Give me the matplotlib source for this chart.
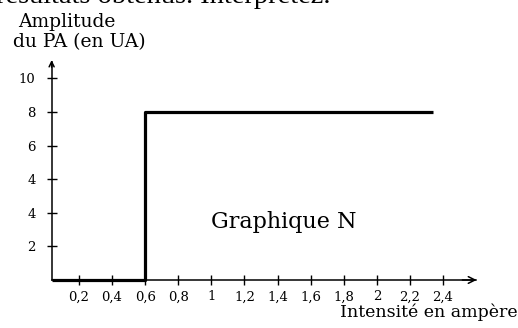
import matplotlib
matplotlib.use("Agg")
import matplotlib.pyplot as plt
import numpy as np

# Seuil d'excitation : amplitude du PA en fonction de l'intensité
intensite = [0.04, 0.6, 0.6, 2.34]
amplitude = [0, 0, 8, 8]

x_ticks = [0.2, 0.4, 0.6, 0.8, 1.0, 1.2, 1.4, 1.6, 1.8, 2.0, 2.2, 2.4]
x_tick_labels = ["0,2", "0,4", "0,6", "0,8", "1", "1,2", "1,4", "1,6",
                 "1,8", "2", "2,2", "2,4"]
y_tick_labels = ["2", "4", "4", "6", "8", "10"]

SERIF = "DejaVu Serif"

fig = plt.figure(figsize=(5.18, 3.28), dpi=100)
ax = fig.add_axes([0, 0, 1, 1])
ax.set_xlim(-0.277, 2.853)
ax.set_ylim(-2.286, 13.33)

x0 = 0.035
ax.plot(intensite, amplitude, color="black", lw=2.3, solid_capstyle="butt")

# axes en croix, avec flèches
for side in ("top", "right"):
    ax.spines[side].set_visible(False)
ax.spines["left"].set_position(("data", x0))
ax.spines["bottom"].set_position(("data", 0))
ax.spines["left"].set_bounds(0, 10.4)
ax.spines["bottom"].set_bounds(x0, 2.6)
ax.spines["left"].set_linewidth(1.1)
ax.spines["bottom"].set_linewidth(1.1)
ax.annotate("", xy=(2.62, 0), xytext=(2.5, 0),
            arrowprops=dict(arrowstyle="->", lw=1.1, color="black",
                            mutation_scale=12))
ax.annotate("", xy=(x0, 10.6), xytext=(x0, 10.0),
            arrowprops=dict(arrowstyle="->", lw=1.1, color="black",
                            mutation_scale=9))

ax.set_xticks(x_ticks)
ax.set_xticklabels(x_tick_labels, fontfamily=SERIF, fontsize=9.5)
ax.set_yticks(np.arange(1, 7) * 1.6)
ax.set_yticklabels(y_tick_labels, fontfamily=SERIF, fontsize=9.5)
ax.tick_params(axis="x", direction="inout", length=7, width=1, pad=4)
ax.tick_params(axis="y", direction="inout", length=7, width=1, pad=8)

ax.text(1.44, 2.76, "Graphique N", fontfamily=SERIF,
        fontsize=16, ha="center", va="center")
ax.text(-0.168, 12.05, "Amplitude", fontfamily=SERIF, fontsize=13.5,
        ha="left", va="baseline")
ax.text(-0.2, 11.1, "du PA (en UA)", fontfamily=SERIF, fontsize=13.5,
        ha="left", va="baseline")
ax.text(2.85, -1.75, "Intensité en ampère", fontfamily=SERIF, fontsize=12.5,
        ha="right", va="baseline")
ax.text(-0.30, 13.17, "résultats obtenus. Interprétez.",
        fontfamily="Liberation Serif", fontsize=20.5, ha="left",
        va="baseline")

fig.savefig("out.png", dpi=100)
